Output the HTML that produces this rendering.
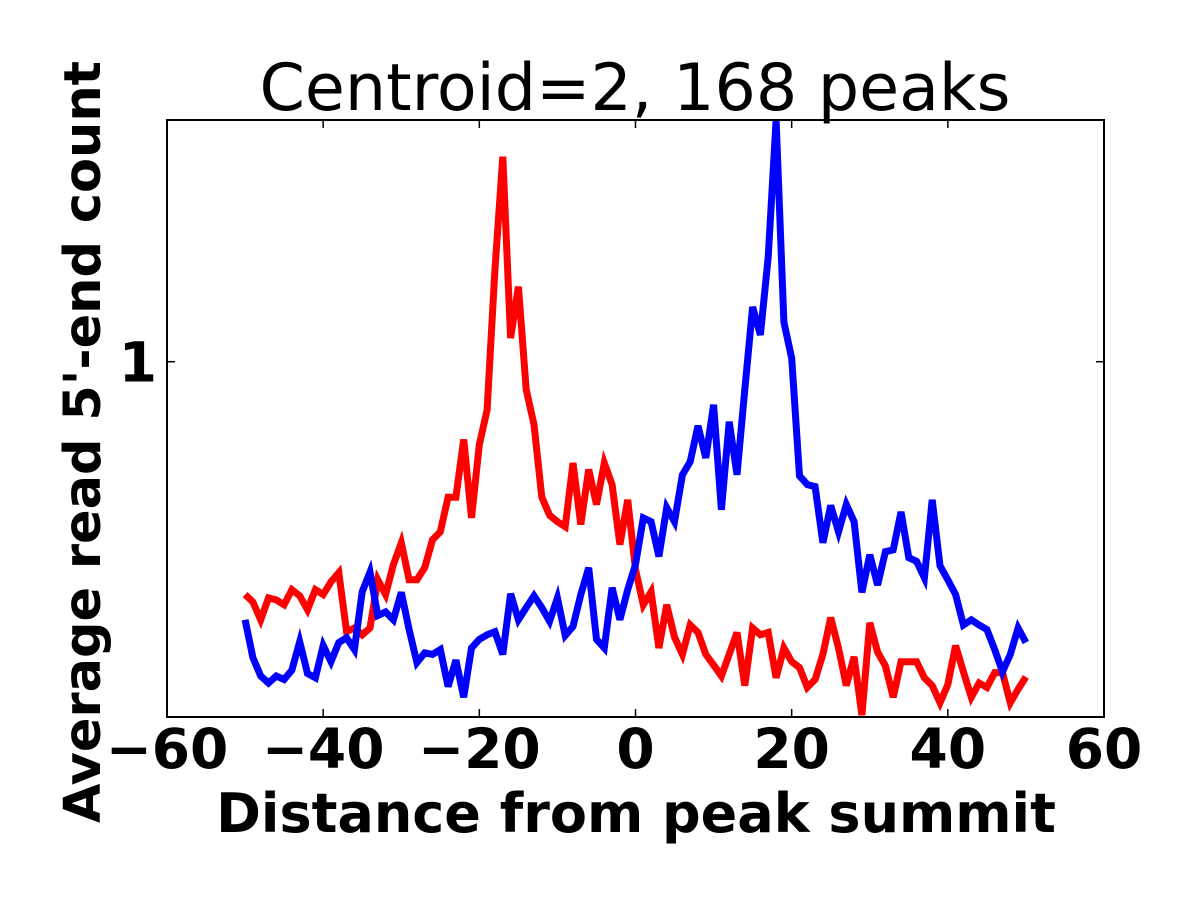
<!DOCTYPE html>
<html><head><meta charset="utf-8"><style>
html,body{margin:0;padding:0;background:#fff;}
svg{display:block;font-family:"DejaVu Sans","Liberation Sans",sans-serif;}
</style></head><body>
<svg id="chart" width="1200" height="900">
<rect width="1200" height="900" fill="#fff"/>
<text x="635" y="110" font-size="65" text-anchor="middle">Centroid=2, 168 peaks</text>
<defs><clipPath id="pc"><rect x="167" y="120" width="937" height="597"/></clipPath></defs>
<g id="series" clip-path="url(#pc)"></g>
<rect x="167" y="120" width="937" height="597" fill="none" stroke="#000" stroke-width="2"/>
<g id="axes"></g>
<text x="636" y="832" font-size="54" font-weight="bold" text-anchor="middle">Distance from peak summit</text>
<text transform="translate(100,442) rotate(-90)" font-size="51" font-weight="bold" text-anchor="middle">Average read 5'-end count</text>
</svg>
<script>
const positions = [];
for (let i = -50; i <= 50; i++) positions.push(i);
const redValues = [0.513,0.502,0.477,0.508,0.505,0.498,0.520,0.511,0.491,0.520,0.513,0.532,0.546,0.461,0.466,0.457,0.466,0.535,0.513,0.559,0.595,0.535,0.535,0.554,0.600,0.614,0.678,0.678,0.80,0.639,0.788,0.871,1.30,1.80,1.07,1.24,0.923,0.835,0.678,0.644,0.632,0.623,0.748,0.627,0.734,0.664,0.748,0.703,0.592,0.673,0.551,0.498,0.517,0.440,0.498,0.454,0.432,0.470,0.460,0.432,0.419,0.406,0.432,0.460,0.395,0.466,0.457,0.460,0.404,0.440,0.423,0.416,0.393,0.402,0.432,0.480,0.440,0.395,0.429,0.363,0.473,0.435,0.418,0.382,0.423,0.423,0.423,0.404,0.395,0.376,0.396,0.443,0.411,0.382,0.398,0.393,0.410,0.410,0.376,0.391,0.405];
const blueValues = [0.477,0.428,0.406,0.398,0.406,0.402,0.413,0.448,0.409,0.404,0.443,0.423,0.447,0.453,0.438,0.517,0.547,0.483,0.488,0.477,0.516,0.464,0.422,0.434,0.432,0.438,0.394,0.425,0.382,0.440,0.451,0.457,0.461,0.432,0.514,0.477,0.494,0.511,0.494,0.475,0.508,0.456,0.468,0.513,0.554,0.451,0.440,0.523,0.477,0.520,0.559,0.639,0.632,0.572,0.658,0.632,0.723,0.751,0.832,0.759,0.884,0.654,0.842,0.723,0.923,1.17,1.08,1.35,2.00,1.12,1.01,0.721,0.703,0.699,0.595,0.662,0.614,0.664,0.632,0.516,0.575,0.527,0.580,0.583,0.650,0.570,0.564,0.538,0.673,0.557,0.535,0.513,0.470,0.477,0.470,0.464,0.438,0.411,0.432,0.466,0.447];
const xTicks = [-60,-40,-20,0,20,40,60];
const xTickLabels = ["\u221260","\u221240","\u221220","0","20","40","60"];
const yTicks = [1];
const yTickLabels = ["1"];
const X0=167,X1=1104,Y0=717,Y1=120,XMIN=-60,XMAX=60,YMIN=0.361,YMAX=2.0;
const xs = v => X0 + (v - XMIN) / (XMAX - XMIN) * (X1 - X0);
const ys = v => Y0 - (Math.log10(v) - Math.log10(YMIN)) / (Math.log10(YMAX) - Math.log10(YMIN)) * (Y0 - Y1);
const NS = "http://www.w3.org/2000/svg";
const series = document.getElementById('series');
function line(vals, color, name) {
  const p = document.createElementNS(NS, 'polyline');
  p.setAttribute('points', vals.map((v, i) => xs(positions[i]).toFixed(1) + ',' + ys(v).toFixed(1)).join(' '));
  p.setAttribute('fill', 'none');
  p.setAttribute('stroke', color);
  p.setAttribute('stroke-width', '7');
  p.setAttribute('stroke-linejoin', 'miter');
  
  
  series.appendChild(p);
}
line(redValues, '#ff0000', 'red-series-line');
line(blueValues, '#0000ff', 'blue-series-line');
const axes = document.getElementById('axes');
xTicks.forEach((t, i) => {
  const x = xs(t);
  [[Y0, Y0 - 8], [Y1, Y1 + 8]].forEach(([a, b]) => {
    const l = document.createElementNS(NS, 'line');
    l.setAttribute('x1', x); l.setAttribute('x2', x); l.setAttribute('y1', a); l.setAttribute('y2', b);
    l.setAttribute('stroke', '#000'); l.setAttribute('stroke-width', '1.5');
    
    
    axes.appendChild(l);
  });
  const tx = document.createElementNS(NS, 'text');
  tx.setAttribute('x', x); tx.setAttribute('y', 768);
  tx.setAttribute('font-size', '55'); tx.setAttribute('font-weight', 'bold'); tx.setAttribute('text-anchor', 'middle');
  tx.textContent = xTickLabels[i];
  
  
  axes.appendChild(tx);
});
yTicks.forEach((t, i) => {
  const y = ys(t);
  [[X0, X0 + 8], [X1, X1 - 8]].forEach(([a, b]) => {
    const l = document.createElementNS(NS, 'line');
    l.setAttribute('x1', a); l.setAttribute('x2', b); l.setAttribute('y1', y); l.setAttribute('y2', y);
    l.setAttribute('stroke', '#000'); l.setAttribute('stroke-width', '1.5');
    
    
    axes.appendChild(l);
  });
  const tx = document.createElementNS(NS, 'text');
  tx.setAttribute('x', 157); tx.setAttribute('y', y + 20);
  tx.setAttribute('font-size', '55'); tx.setAttribute('font-weight', 'bold'); tx.setAttribute('text-anchor', 'end');
  tx.textContent = yTickLabels[i];
  
  
  axes.appendChild(tx);
});
</script>
</body></html>
